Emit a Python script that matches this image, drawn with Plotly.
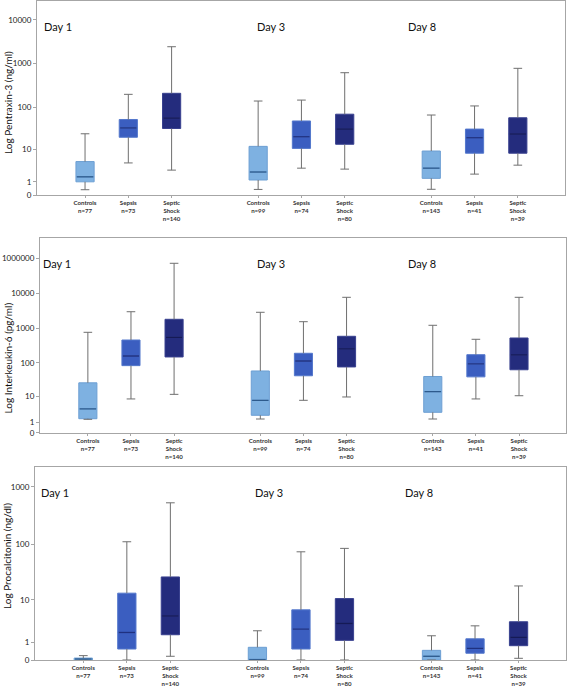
import numpy as np
import plotly.graph_objects as go

# ---------------- data (raw values) ----------------
days = ["Day 1", "Day 3", "Day 8"]
groups = ["Controls", "Sepsis", "Septic<br>Shock"]
n_counts = [77, 73, 140, 99, 74, 80, 143, 41, 39]   # order: D1 C,S,SS | D3 C,S,SS | D8 C,S,SS

# Pentraxin-3 (ng/ml)
ptx_lower = [0.32, 4.4, 2.7, 0.34, 3.1, 2.9, 0.35, 2.0, 3.8]
ptx_q1 = [1.0, 19.8, 32, 1.2, 10.6, 13.4, 1.4, 8.0, 8.0]
ptx_median = [1.6, 33, 56, 2.35, 20.4, 31, 3.1, 19.3, 23.7]
ptx_q3 = [4.8, 52, 209, 11.9, 48, 69, 9.1, 31, 57]
ptx_upper = [24, 198, 2430, 139, 146, 619, 66, 107, 780]
ptx_ticks = [0, 1, 10, 100, 1000, 10000]
ptx_ticktext = ["0", "1", "10", "100", "1000", "10000"]

# Interleukin-6 (pg/ml)
il6_lower = [1.42, 8.3, 11.6, 1.47, 7.5, 9.6, 1.47, 8.3, 10.5]
il6_q1 = [1.52, 83, 148, 2.16, 42, 76, 2.85, 39, 63]
il6_median = [3.8, 158, 545, 7.5, 113, 252, 14, 93, 169]
il6_q3 = [26, 456, 1794, 58, 189, 583, 40, 172, 521]
il6_upper = [759, 2960, 72600, 2850, 1530, 7670, 1207, 478, 7670]
il6_ticks = [0, 1, 10, 100, 1000, 10000, 100000]
il6_ticktext = ["0", "1", "10", "100", "1000", "10000", "1000000"]

# Procalcitonin (ng/dl)
pct_lower = [0.0, 0.0, 0.16, 0.0, 0.0, 0.0, 0.0, 0.0, 0.07]
pct_q1 = [0.0, 0.55, 1.74, 0.0, 0.55, 1.19, 0.0, 0.31, 0.77]
pct_median = [0.04, 2.0, 4.8, 0.01, 2.43, 3.3, 0.16, 0.59, 1.47]
pct_q3 = [0.08, 13.4, 26.5, 0.66, 6.4, 10.6, 0.47, 1.33, 3.6]
pct_upper = [0.19, 111, 529, 2.21, 74, 85, 1.63, 2.91, 18.2]
pct_ticks = [0, 1, 10, 100, 1000]
pct_ticktext = ["0", "1", "10", "100", "1000"]

titles = ["Log Pentraxin-3 (ng/ml)", "Log Interkeukin-6 (pg/ml)", "Log Procalcitonin (ng/dl)"]

# ---------------- styling ----------------
FONT = "Lato, Open Sans, sans-serif"
fills = ["#7eb1e1", "#3b5ec0", "#242c7d"]
outlines = ["#6d9fd3", "#5478cc", "#39418f"]
medcols = ["#2d5a8c", "#1f3180", "#151a56"]
whisk = "#6f6f6f"
frame = "#a6a6a6"
BOXW = 0.42
CAPW = 0.2


def tr(v):
    return np.log10(np.asarray(v, dtype=float) + 1.0)


positions = [d * 4 + g for d in range(3) for g in range(3)]
ticktext_x = ["<b>%s<br>n=%d</b>" % (groups[i % 3], n_counts[i]) for i in range(9)]

panels = [
    dict(lo=ptx_lower, q1=ptx_q1, me=ptx_median, q3=ptx_q3, up=ptx_upper,
         tv=ptx_ticks, tt=ptx_ticktext, xdom=[37 / 567, 565 / 567],
         ydom=[1 - 195 / 689, 1 - 1 / 689], ytop=4.43, title_y=103, title_x=8,
         dayx=[0.040, 0.444, 0.729]),
    dict(lo=il6_lower, q1=il6_q1, me=il6_median, q3=il6_q3, up=il6_upper,
         tv=il6_ticks, tt=il6_ticktext, xdom=[40 / 567, 566 / 567],
         ydom=[1 - 432.7 / 689, 1 - 238.3 / 689], ytop=5.578, title_y=358, title_x=7.5,
         dayx=[0.032, 0.440, 0.726]),
    dict(lo=pct_lower, q1=pct_q1, me=pct_median, q3=pct_q3, up=pct_upper,
         tv=pct_ticks, tt=pct_ticktext, xdom=[35 / 567, 566 / 567],
         ydom=[1 - 660 / 689, 1 - 466.7 / 689], ytop=3.35, title_y=556, title_x=7,
         dayx=[0.037, 0.441, 0.723]),
]

fig = go.Figure()
annotations = []

for k, p in enumerate(panels):
    sfx = "" if k == 0 else str(k + 1)
    xa, ya = "x" + sfx, "y" + sfx
    lo, q1, me, q3, up = (tr(p[s]) for s in ("lo", "q1", "me", "q3", "up"))

    # whiskers (drawn first so boxes sit on top)
    wx, wy = [], []
    for i, pos in enumerate(positions):
        wx += [pos, pos, None, pos, pos, None,
               pos - CAPW / 2, pos + CAPW / 2, None, pos - CAPW / 2, pos + CAPW / 2, None]
        wy += [lo[i], q1[i], None, q3[i], up[i], None,
               lo[i], lo[i], None, up[i], up[i], None]
    fig.add_trace(go.Scatter(x=wx, y=wy, mode="lines", line=dict(color=whisk, width=1),
                             xaxis=xa, yaxis=ya, hoverinfo="skip", showlegend=False,
                             cliponaxis=False))

    for g in range(3):
        idx = [i for i in range(9) if i % 3 == g]
        px = [positions[i] for i in idx]
        fig.add_trace(go.Box(
            x=px, q1=q1[idx], median=me[idx], q3=q3[idx],
            lowerfence=q1[idx], upperfence=q3[idx],
            width=BOXW, whiskerwidth=0, boxpoints=False,
            fillcolor=fills[g], line=dict(color=outlines[g], width=1),
            xaxis=xa, yaxis=ya, showlegend=False, name=groups[g]))
        mx, my = [], []
        for i in idx:
            mx += [positions[i] - BOXW / 2 + 0.02, positions[i] + BOXW / 2 - 0.02, None]
            my += [me[i], me[i], None]
        fig.add_trace(go.Scatter(x=mx, y=my, mode="lines", line=dict(color=medcols[g], width=1.3),
                                 xaxis=xa, yaxis=ya, hoverinfo="skip", showlegend=False))

    fig.update_layout(**{
        "xaxis" + sfx: dict(domain=p["xdom"], range=[-1.11, 11.09], anchor=ya,
                            automargin=False,
                            tickvals=positions, ticktext=ticktext_x, ticks="outside",
                            ticklen=2, tickcolor=frame, showline=True, linecolor=frame,
                            mirror=True, showgrid=False, zeroline=False,
                            tickfont=dict(family=FONT, size=6.1, color="#333333")),
        "yaxis" + sfx: dict(domain=p["ydom"], range=[0, p["ytop"]], anchor=xa,
                            automargin=False,
                            tickvals=list(tr(p["tv"])), ticktext=p["tt"], ticks="outside",
                            ticklen=3, tickcolor=frame, showline=True, linecolor=frame,
                            mirror=True, showgrid=False, zeroline=False,
                            tickfont=dict(family=FONT, size=8, color="#222222")),
    })

    for d in range(3):
        annotations.append(dict(text=days[d], xref=xa + " domain", yref=ya + " domain",
                                x=p["dayx"][d], y=0.868, xanchor="center", yanchor="middle",
                                showarrow=False,
                                font=dict(family=FONT, size=11, color="#111111")))
    annotations.append(dict(text=titles[k], xref="paper", yref="paper",
                            x=p["title_x"] / 567, y=1 - p["title_y"] / 689, textangle=-90,
                            xanchor="center", yanchor="middle",
                            showarrow=False, font=dict(family=FONT, size=10, color="#111111")))

fig.update_layout(width=567, height=689, margin=dict(l=0, r=0, t=0, b=0),
                  plot_bgcolor="white", paper_bgcolor="white", boxmode="overlay",
                  annotations=annotations, showlegend=False)

fig.write_html("out.html", config={"displayModeBar": False, "responsive": False},
               post_script="document.body.style.margin='0';document.body.style.overflow='hidden';")
